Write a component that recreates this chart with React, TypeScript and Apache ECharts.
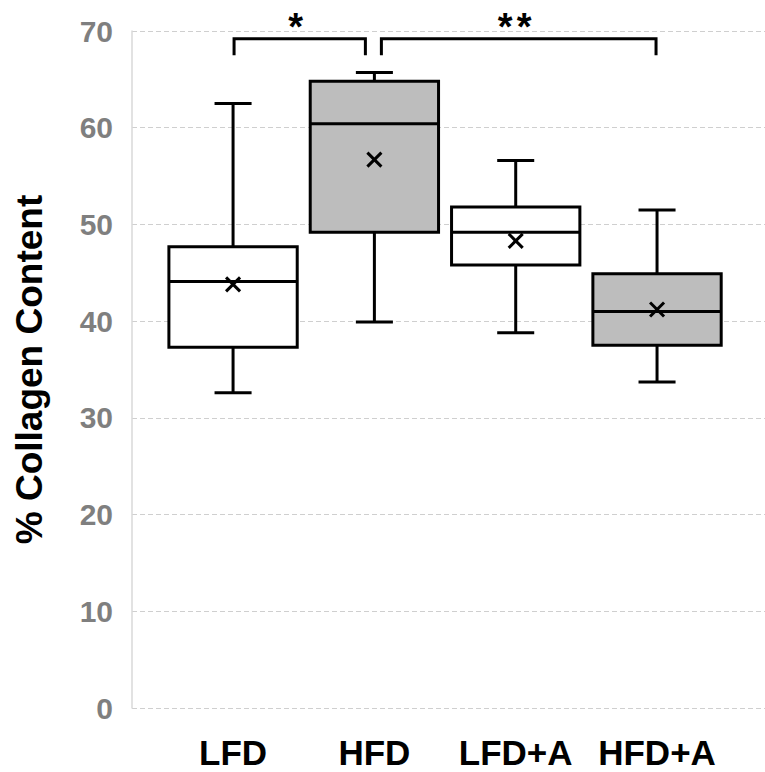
import React, { useEffect, useRef } from "react";
import * as echarts from "echarts";

const categories = ["LFD", "HFD", "LFD+A", "HFD+A"];
const minValues = [32.6, 39.9, 38.8, 33.7];
const q1Values = [37.3, 49.2, 45.8, 37.5];
const medianValues = [44.1, 60.4, 49.2, 41.0];
const q3Values = [47.7, 64.8, 51.8, 44.9];
const maxValues = [62.5, 65.7, 56.6, 51.5];
const meanValues = [43.8, 56.7, 48.3, 41.2];

const yMin = 0;
const yMax = 70;
const yInterval = 10;

const bracketFrom = [0, 1];
const bracketTo = [1, 3];
const bracketLabels = ["*", "**"];
const bracketLevel = 69.2;
const bracketTickEnd = 67.5;

const FONT = '"Liberation Sans", Arial, sans-serif';

export default function App() {
  const ref = useRef<HTMLDivElement>(null);

  useEffect(() => {
    document.body.style.margin = "0";
    const chart = echarts.init(ref.current!, null, { renderer: "svg" });

    const boxData = categories.map((_, i) => [
      i,
      minValues[i],
      q1Values[i],
      medianValues[i],
      q3Values[i],
      maxValues[i],
      meanValues[i],
    ]);
    const fills = ["#ffffff", "#bdbdbd", "#ffffff", "#bdbdbd"];
    const bracketData = bracketFrom.map((f, i) => [f, bracketTo[i], i]);
    const fromOffsets = [1, 7];
    const toOffsets = [-9, -1];

    const option: any = {
      animation: false,
      backgroundColor: "#ffffff",
      grid: [
        { left: 132, right: 0, top: 31, bottom: 64, outerBoundsMode: "none", containLabel: false },
        { left: 162.4, right: 37.3, top: 31, bottom: 64, outerBoundsMode: "none", containLabel: false },
      ],
      xAxis: [
        { type: "value", gridIndex: 0, min: 0, max: 1, show: false },
        {
          type: "category",
          gridIndex: 1,
          data: categories,
          boundaryGap: true,
          axisLine: { show: false },
          axisTick: { show: false },
          splitLine: { show: false },
          axisLabel: {
            color: "#000000",
            fontSize: 35,
            lineHeight: 35,
            fontWeight: "bold",
            fontFamily: FONT,
            margin: 27,
            interval: 0,
            hideOverlap: false,
          },
        },
      ],
      yAxis: [
        {
          type: "value",
          gridIndex: 0,
          min: yMin,
          max: yMax,
          interval: yInterval,
          name: "% Collagen Content",
          nameLocation: "middle",
          nameRotate: 90,
          nameGap: 84,
          nameTextStyle: {
            color: "#000000",
            fontSize: 37,
            fontWeight: "bold",
            fontFamily: FONT,
          },
          axisLine: { show: true, lineStyle: { color: "#d9d9d9", width: 1.5 } },
          axisTick: { show: false },
          axisLabel: {
            color: "#7f7f7f",
            fontSize: 30,
            fontWeight: "bold",
            fontFamily: FONT,
            margin: 19,
          },
          splitLine: {
            show: true,
            lineStyle: { color: "#cfcfcf", type: [5, 3], width: 1 },
          },
        },
        {
          type: "value",
          gridIndex: 1,
          min: yMin,
          max: yMax,
          interval: yInterval,
          show: false,
          splitLine: { show: false },
        },
      ],
      series: [
        {
          type: "custom",
          xAxisIndex: 1,
          yAxisIndex: 1,
          data: boxData,
          clip: false,
          renderItem: (params: any, api: any) => {
            const idx = api.value(0);
            const vMin = api.value(1);
            const vQ1 = api.value(2);
            const vMed = api.value(3);
            const vQ3 = api.value(4);
            const vMax = api.value(5);
            const vMean = api.value(6);
            const band = api.size([1, 0])[0];
            const boxW = band * 0.908;
            const capW = band * 0.262;
            const cx = api.coord([idx, vMin])[0];
            const yMinP = api.coord([idx, vMin])[1];
            const yQ1 = api.coord([idx, vQ1])[1];
            const yMed = api.coord([idx, vMed])[1];
            const yQ3 = api.coord([idx, vQ3])[1];
            const yMaxP = api.coord([idx, vMax])[1];
            const yMean = api.coord([idx, vMean])[1];
            const st = { stroke: "#000000", lineWidth: 3 };
            const m = 7;
            return {
              type: "group",
              children: [
                { type: "line", shape: { x1: cx, y1: yQ1, x2: cx, y2: yMinP }, style: st },
                { type: "line", shape: { x1: cx, y1: yQ3, x2: cx, y2: yMaxP }, style: st },
                { type: "line", shape: { x1: cx - capW / 2, y1: yMinP, x2: cx + capW / 2, y2: yMinP }, style: st },
                { type: "line", shape: { x1: cx - capW / 2, y1: yMaxP, x2: cx + capW / 2, y2: yMaxP }, style: st },
                {
                  type: "rect",
                  shape: { x: cx - boxW / 2, y: yQ3, width: boxW, height: yQ1 - yQ3 },
                  style: { fill: fills[idx], stroke: "#000000", lineWidth: 3 },
                },
                { type: "line", shape: { x1: cx - boxW / 2, y1: yMed, x2: cx + boxW / 2, y2: yMed }, style: st },
                { type: "line", shape: { x1: cx - m, y1: yMean - m, x2: cx + m, y2: yMean + m }, style: st },
                { type: "line", shape: { x1: cx - m, y1: yMean + m, x2: cx + m, y2: yMean - m }, style: st },
              ],
            };
          },
        },
        {
          type: "custom",
          xAxisIndex: 1,
          yAxisIndex: 1,
          data: bracketData,
          clip: false,
          renderItem: (params: any, api: any) => {
            const f = api.value(0);
            const t = api.value(1);
            const k = api.value(2);
            const x1 = api.coord([f, bracketLevel])[0] + fromOffsets[k];
            const x2 = api.coord([t, bracketLevel])[0] + toOffsets[k];
            const yTop = api.coord([f, bracketLevel])[1];
            const yBot = api.coord([f, bracketTickEnd])[1];
            const st = { stroke: "#000000", lineWidth: 3 };
            const label = bracketLabels[k];
            const mid = (x1 + x2) / 2 - 4;
            const stars = label.split("").map((ch, j) => ({
              type: "text",
              x: mid + (j - (label.length - 1) / 2) * 19,
              y: yTop - 12,
              style: {
                text: ch,
                fill: "#000000",
                fontSize: 38,
                fontWeight: "bold",
                fontFamily: FONT,
                align: "center",
                verticalAlign: "middle",
              },
            }));
            return {
              type: "group",
              children: [
                { type: "polyline", shape: { points: [[x1, yBot], [x1, yTop], [x2, yTop], [x2, yBot]] }, style: { ...st, fill: null } },
                ...stars,
              ],
            };
          },
        },
      ],
    };

    chart.setOption(option);
    return () => chart.dispose();
  }, []);

  return <div ref={ref} style={{ width: 765, height: 772 }} />;
}
